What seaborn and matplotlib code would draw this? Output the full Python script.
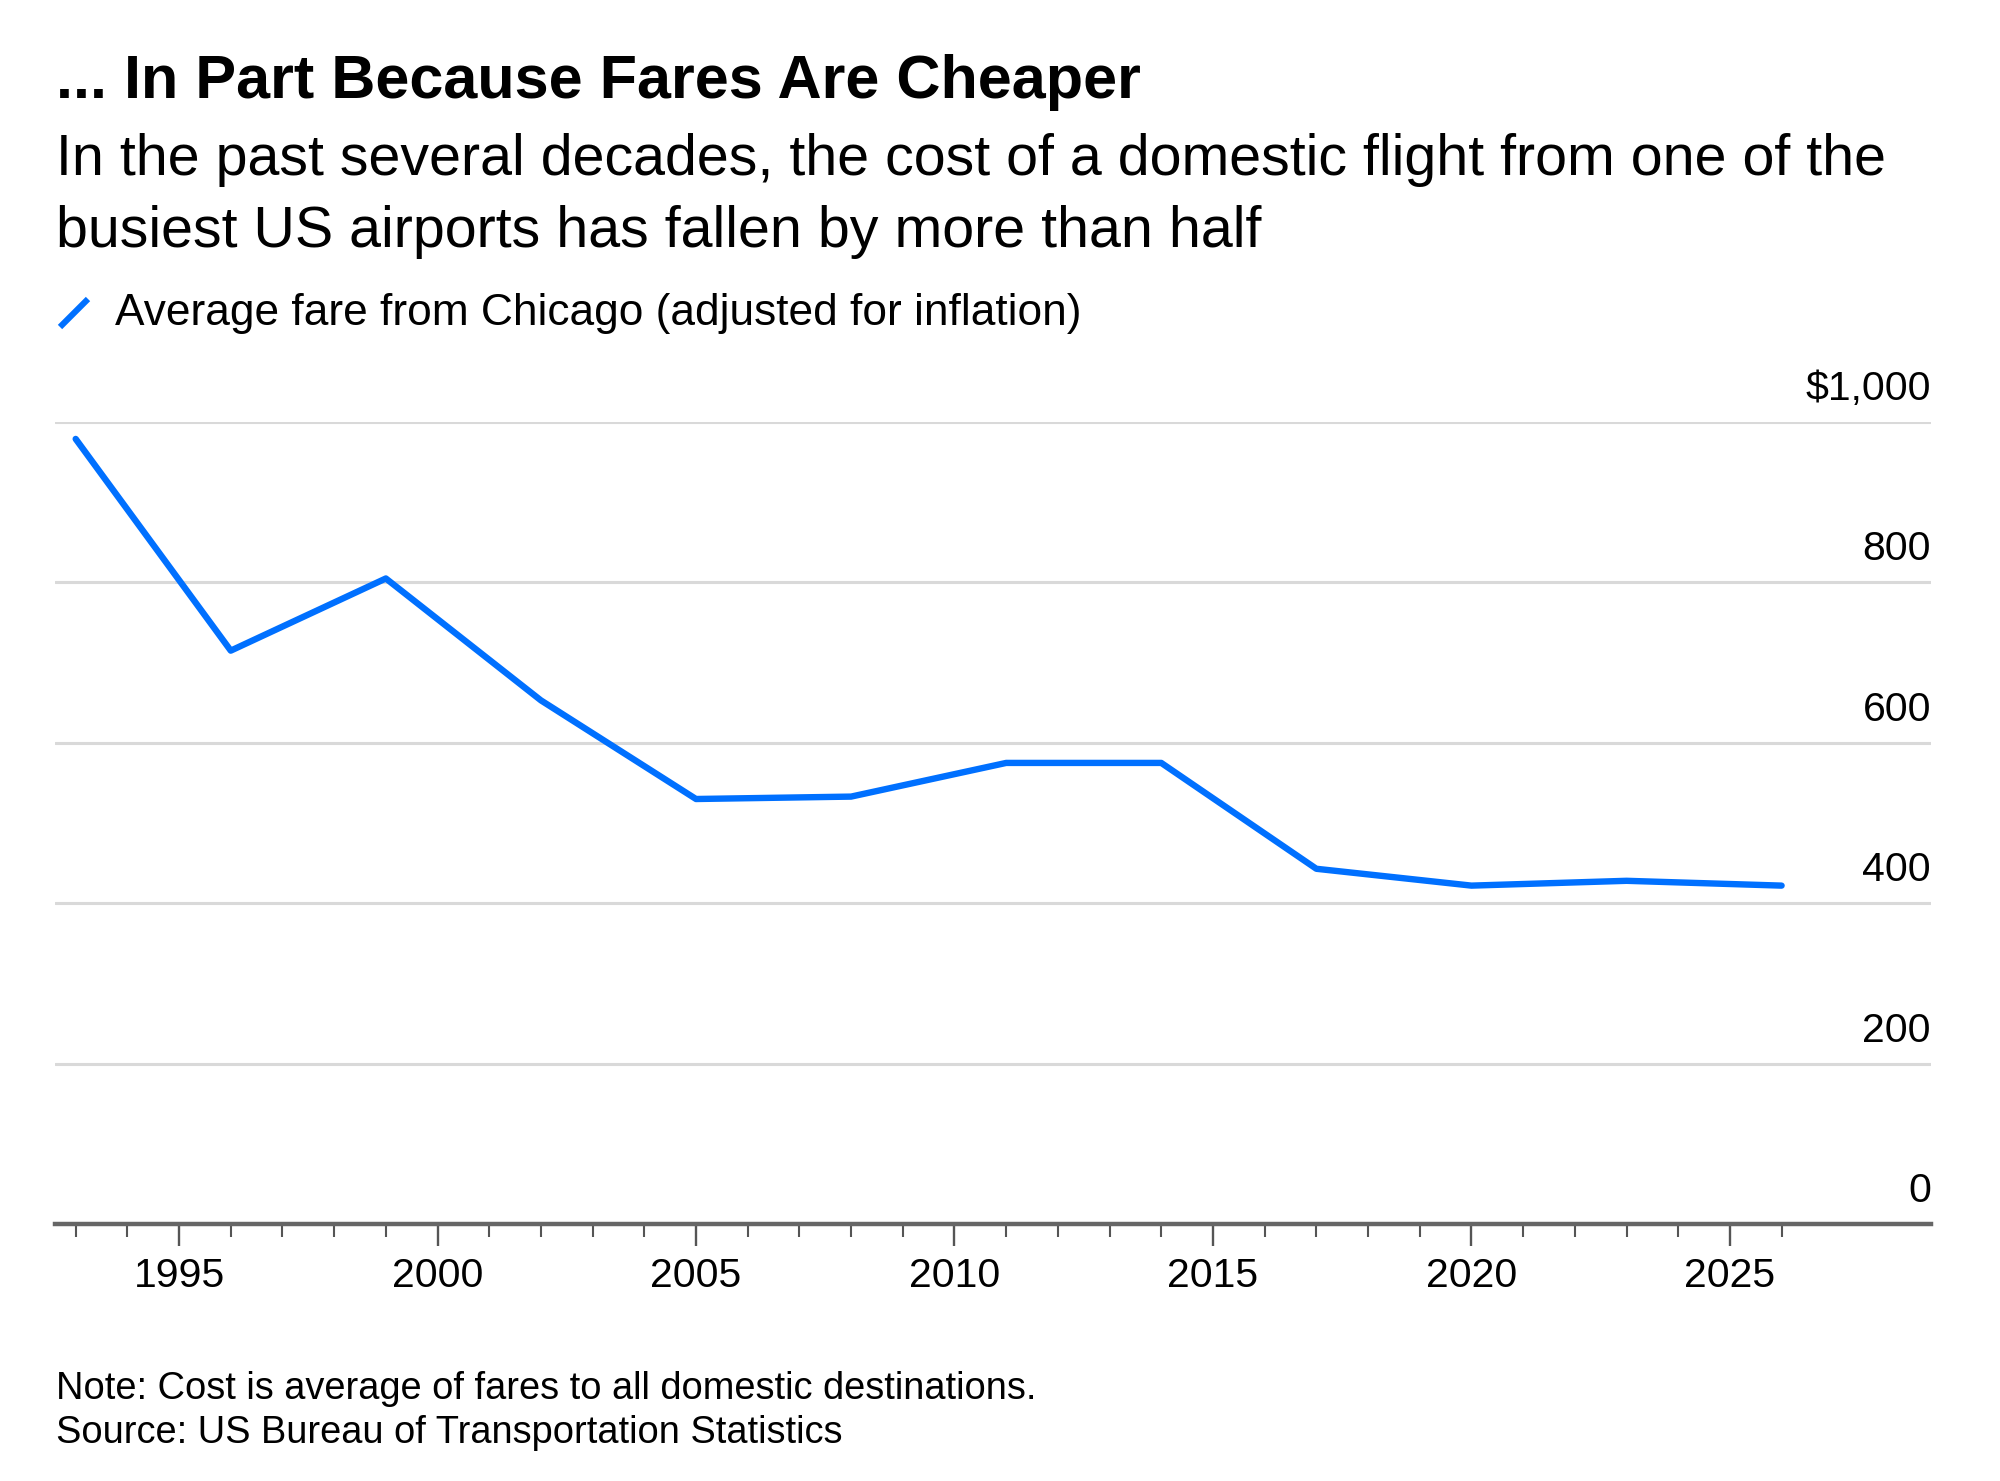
import matplotlib
matplotlib.use("Agg")
import matplotlib.pyplot as plt
import matplotlib.transforms as mtransforms
from matplotlib.lines import Line2D
from matplotlib.ticker import FixedLocator
import seaborn as sns
import pandas as pd

# ---- data ----
years = [1993, 1996, 1999, 2002, 2005, 2008, 2011, 2014, 2017, 2020, 2023, 2026]
fares = [979, 715, 805, 653, 530, 533, 575, 575, 443, 422, 428, 422]
y_ticks = [0, 200, 400, 600, 800, 1000]
y_tick_labels = ["0", "200", "400", "600", "800", "$1,000"]
x_major = [1995, 2000, 2005, 2010, 2015, 2020, 2025]
x_major_labels = ["1995", "2000", "2005", "2010", "2015", "2020", "2025"]
x_minor = [y for y in range(1993, 2027) if y % 5 != 0]

title = "... In Part Because Fares Are Cheaper"
subtitle_1 = "In the past several decades, the cost of a domestic flight from one of the"
subtitle_2 = "busiest US airports has fallen by more than half"
legend_label = "Average fare from Chicago (adjusted for inflation)"
note = "Note: Cost is average of fares to all domestic destinations."
source = "Source: US Bureau of Transportation Statistics"

df = pd.DataFrame({"year": years, "fare": fares})

sns.set_theme(style="white")
plt.rcParams["font.family"] = ["Liberation Sans", "DejaVu Sans"]

LINE_COLOR = "#0070ff"
TEXT = "#000000"

fig = plt.figure(figsize=(20, 14.81), dpi=100)
ax = fig.add_axes([0.0275, 0.1735, 0.938, 0.5415])

sns.lineplot(data=df, x="year", y="fare", ax=ax, color=LINE_COLOR,
             linewidth=4.6, legend=False, zorder=3)

ax.set_xlim(1992.6, 2028.89)
ax.set_ylim(0, 1000)

# grid
ax.yaxis.set_major_locator(FixedLocator(y_ticks))
ax.grid(axis="y", color="#d9d9d9", linewidth=2.2, zorder=0)
ax.grid(axis="x", visible=False)
ax.set_axisbelow(True)

for s in ["top", "left", "right"]:
    ax.spines[s].set_visible(False)
ax.spines["bottom"].set_color("#666666")
ax.spines["bottom"].set_linewidth(3.2)
ax.spines["bottom"].set_zorder(4)

# x ticks
ax.xaxis.set_major_locator(FixedLocator(x_major))
ax.set_xticklabels(x_major_labels)
ax.xaxis.set_minor_locator(FixedLocator(x_minor))
ax.tick_params(axis="x", which="major", direction="out", length=16, width=1.7,
               color="#555555", labelsize=29.5, labelcolor=TEXT, pad=8, bottom=True)
ax.tick_params(axis="x", which="minor", direction="out", length=9.5, width=1.5,
               color="#555555", bottom=True)

# y ticks on right, above gridlines
ax.yaxis.tick_right()
ax.set_yticklabels(y_tick_labels)
ax.tick_params(axis="y", length=0, pad=0, labelsize=29.5, labelcolor=TEXT)
offset = mtransforms.ScaledTranslation(0, 0.22, fig.dpi_scale_trans)
for lab in ax.get_yticklabels():
    lab.set_ha("right")
    lab.set_va("baseline")
    lab.set_transform(lab.get_transform() + offset)

ax.set_xlabel("")
ax.set_ylabel("")

# header texts
fig.text(0.028, 0.9335, title, fontsize=44, fontweight="bold", color=TEXT,
         ha="left", va="baseline")
fig.text(0.028, 0.8815, subtitle_1, fontsize=41.3, color=TEXT, ha="left", va="baseline")
fig.text(0.028, 0.8335, subtitle_2, fontsize=41.3, color=TEXT, ha="left", va="baseline")

# legend
fig.add_artist(Line2D([60 / 2000, 88 / 2000], [1 - 327 / 1481, 1 - 299 / 1481],
                      transform=fig.transFigure, color=LINE_COLOR, linewidth=4.4,
                      solid_capstyle="butt"))
fig.text(115 / 2000, 0.7805, legend_label, fontsize=31.9, color=TEXT,
         ha="left", va="baseline")

# footer
fig.text(0.028, 0.0555, note, fontsize=27.4, color=TEXT, ha="left", va="baseline")
fig.text(0.028, 0.0258, source, fontsize=27.4, color=TEXT, ha="left", va="baseline")

fig.savefig("out.png", dpi=100, facecolor="white")
